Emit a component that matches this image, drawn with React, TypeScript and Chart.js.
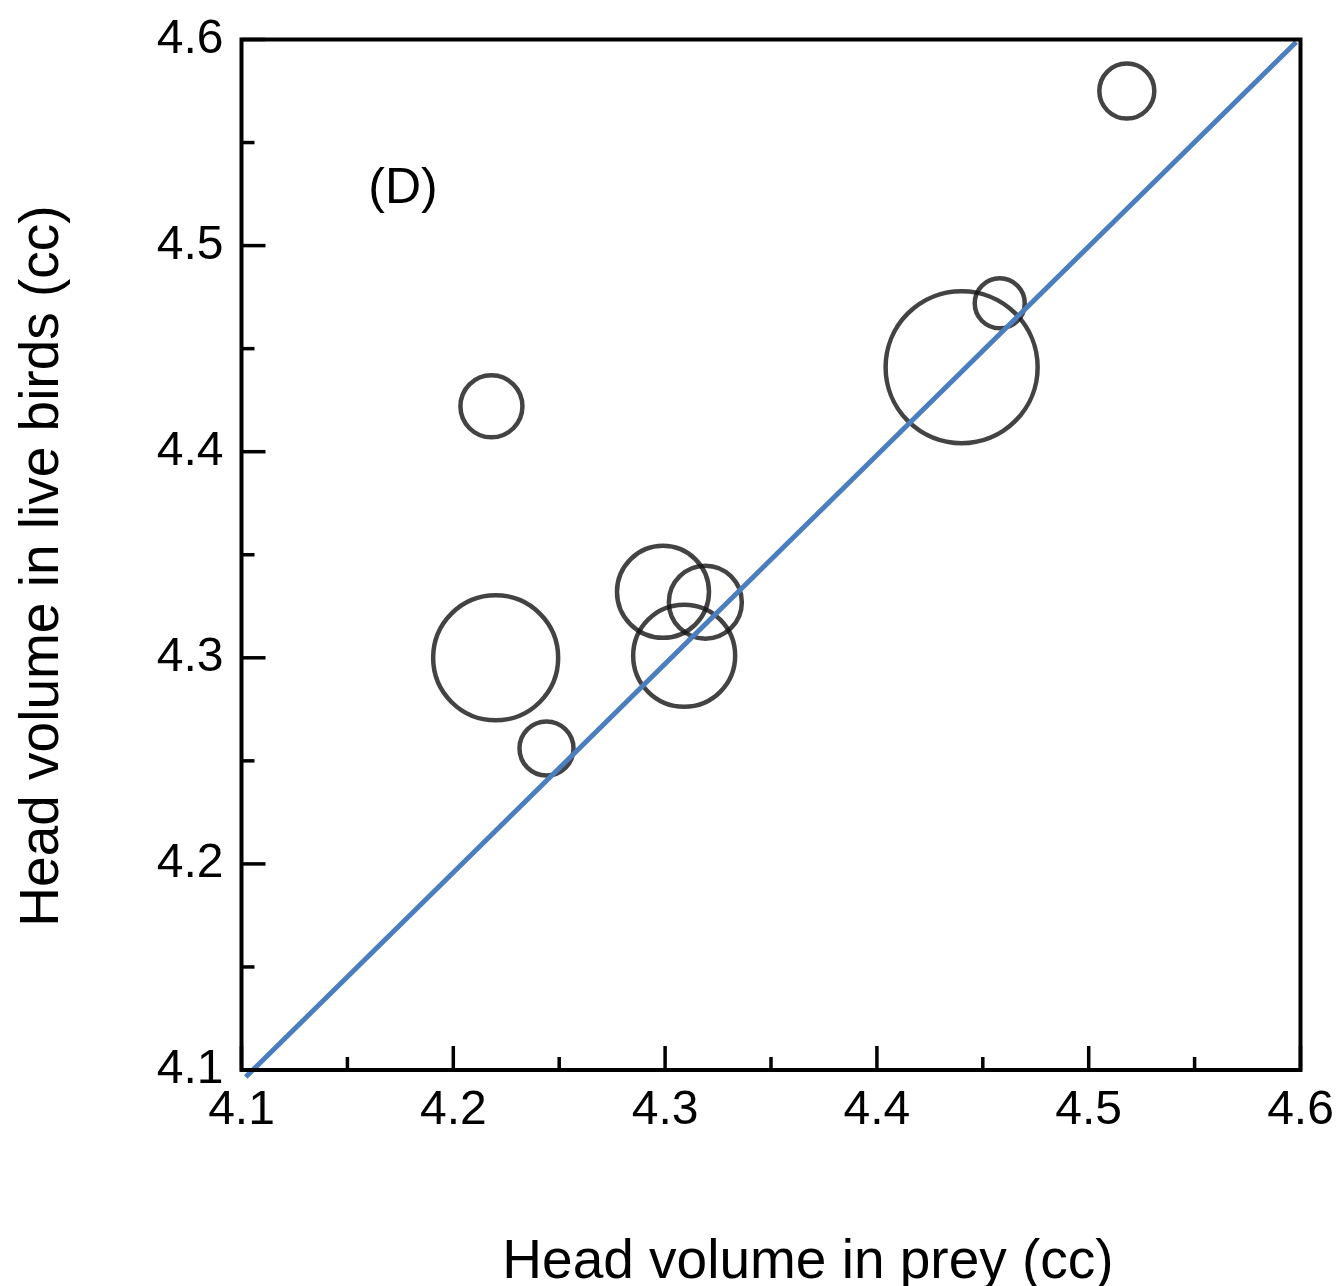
import React, { useEffect, useRef } from 'react';
import { Chart, registerables } from 'chart.js';

Chart.register(...registerables);

// ---- data ----
const preyVolume = [4.518, 4.458, 4.44, 4.218, 4.299, 4.319, 4.309, 4.22, 4.244];
const liveVolume = [4.575, 4.472, 4.441, 4.422, 4.332, 4.327, 4.301, 4.3, 4.256];
const bubbleSize = [27.5, 25, 76, 31, 46, 36.5, 51, 62.5, 27];
const fitX = [4.102, 4.598];
const fitY = [4.0966, 4.5988];
const majorTicks = [4.1, 4.2, 4.3, 4.4, 4.5, 4.6];
const minorTicks = [4.15, 4.25, 4.35, 4.45, 4.55];
const xTitle = 'Head volume in prey (cc)';
const yTitle = 'Head volume in live birds (cc)';
const panelLabel = '(D)';

const FONT = '"Liberation Sans", Arial, Helvetica, sans-serif';
const AREA = { left: 241.5, top: 39.5, right: 1300.5, bottom: 1070 };

const framePlugin = {
  id: 'frameAndTitles',
  afterDraw(chart: any) {
    const { ctx, chartArea } = chart;
    const xs = chart.scales.x;
    const ys = chart.scales.y;
    const { left, right, top, bottom } = chartArea;
    ctx.save();
    ctx.strokeStyle = '#000';
    ctx.lineWidth = 4;
    ctx.lineCap = 'butt';
    const drawX = (v: number, len: number) => {
      const p = xs.getPixelForValue(v);
      ctx.beginPath();
      ctx.moveTo(p, bottom);
      ctx.lineTo(p, bottom - len);
      ctx.stroke();
    };
    const drawY = (v: number, len: number) => {
      const p = ys.getPixelForValue(v);
      ctx.beginPath();
      ctx.moveTo(left, p);
      ctx.lineTo(left + len, p);
      ctx.stroke();
    };
    ctx.lineWidth = 3.5;
    majorTicks.forEach((v) => { drawX(v, 24); drawY(v, 24); });
    minorTicks.forEach((v) => { drawX(v, 13); drawY(v, 13); });
    ctx.lineWidth = 4;
    ctx.strokeRect(left, top, right - left, bottom - top);

    ctx.fillStyle = '#000';
    ctx.font = `55px ${FONT}`;
    ctx.textAlign = 'center';
    ctx.textBaseline = 'alphabetic';
    ctx.fillText(xTitle, 808, 1278);

    ctx.save();
    ctx.translate(58, 566);
    ctx.rotate(-Math.PI / 2);
    ctx.fillText(yTitle, 0, 0);
    ctx.restore();

    ctx.font = `50px ${FONT}`;
    ctx.fillText(panelLabel, 403, 203);
    ctx.restore();
  },
};

const zeroPadding = (s: any) => {
  s.paddingTop = 0;
  s.paddingBottom = 0;
  s.paddingLeft = 0;
  s.paddingRight = 0;
};

export default function App() {
  const ref = useRef<HTMLCanvasElement | null>(null);

  useEffect(() => {
    document.body.style.margin = '0';
    const canvas = ref.current;
    if (!canvas) return;
    const labelCb = (v: any) => {
      const n = Number(v);
      return majorTicks.some((m) => Math.abs(m - n) < 1e-6) ? n.toFixed(1) : '';
    };
    const chart = new Chart(canvas, {
      type: 'bubble',
      data: {
        datasets: [
          {
            type: 'bubble',
            data: preyVolume.map((x, i) => ({ x, y: liveVolume[i], r: bubbleSize[i] })),
            backgroundColor: 'rgba(0,0,0,0)',
            borderColor: 'rgba(20,20,20,0.8)',
            borderWidth: 4.5,
            hoverRadius: 0,
            hoverBorderWidth: 4.5,
            order: 2,
            clip: false as any,
          } as any,
          {
            type: 'line',
            data: fitX.map((x, i) => ({ x, y: fitY[i] })),
            borderColor: '#4a7ebf',
            borderWidth: 5,
            pointRadius: 0,
            fill: false,
            order: 1,
            clip: false as any,
          } as any,
        ],
      },
      options: {
        animation: false,
        responsive: false,
        events: [],
        layout: {
          autoPadding: false,
          padding: { left: 0, top: AREA.top, right: 1338 - AREA.right, bottom: 0 },
        },
        plugins: {
          legend: { display: false },
          tooltip: { enabled: false },
          title: { display: false },
        },
        scales: {
          x: {
            type: 'linear',
            min: 4.1,
            max: 4.6,
            grid: { display: false, drawTicks: false },
            border: { display: false },
            afterBuildTicks: (s: any) => { s.ticks = majorTicks.map((v) => ({ value: v })); },
            afterFit: (s: any) => { s.height = 1286 - AREA.bottom; zeroPadding(s); },
            ticks: {
              autoSkip: false,
              maxRotation: 0,
              padding: 12,
              color: '#000',
              font: { family: FONT, size: 48 },
              callback: labelCb,
            },
          },
          y: {
            type: 'linear',
            min: 4.1,
            max: 4.6,
            grid: { display: false, drawTicks: false },
            border: { display: false },
            afterBuildTicks: (s: any) => { s.ticks = majorTicks.map((v) => ({ value: v })); },
            afterFit: (s: any) => { s.width = AREA.left; zeroPadding(s); },
            ticks: {
              autoSkip: false,
              padding: 18,
              color: '#000',
              font: { family: FONT, size: 48 },
              callback: labelCb,
            },
          },
        },
      } as any,
      plugins: [framePlugin],
    });
    return () => chart.destroy();
  }, []);

  return (
    <div style={{ width: 1338, height: 1286, background: '#fff' }}>
      <canvas ref={ref} width={1338} height={1286} style={{ display: 'block' }} />
    </div>
  );
}
